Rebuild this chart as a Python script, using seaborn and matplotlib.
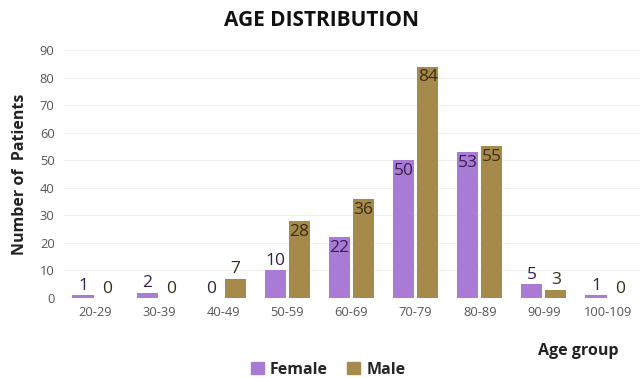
import pandas as pd
import matplotlib.pyplot as plt
import seaborn as sns

# Data
age_groups = ["20-29", "30-39", "40-49", "50-59", "60-69", "70-79", "80-89", "90-99", "100-109"]
female = [1, 2, 0, 10, 22, 50, 53, 5, 1]
male = [0, 0, 7, 28, 36, 84, 55, 3, 0]

df = pd.DataFrame({
    "Age group": age_groups * 2,
    "Count": female + male,
    "Sex": ["Female"] * len(age_groups) + ["Male"] * len(age_groups),
})

sns.set_style("white")
plt.rcParams["font.family"] = ["Open Sans", "DejaVu Sans"]

fig = plt.figure(figsize=(6.42, 3.78), dpi=100)
ax = fig.add_axes([0.098, 0.2116, 0.899, 0.656])

palette = {"Female": "#A97BD5", "Male": "#A68A4B"}
sns.barplot(data=df, x="Age group", y="Count", hue="Sex", order=age_groups,
            hue_order=["Female", "Male"], palette=palette, width=0.75, gap=0.12,
            saturation=1, linewidth=0, ax=ax, legend=True)

# value labels
text_colors = ["#35204f", "#3a2e12"]
for cont, tc in zip(ax.containers, text_colors):
    for bar in cont:
        v = bar.get_height()
        x = bar.get_x() + bar.get_width() / 2
        if v >= 20:
            ax.text(x, v - 1, f"{int(v)}", ha="center", va="top", fontsize=12.5, color=tc)
        else:
            ax.text(x, v + 0.5, f"{int(v)}", ha="center", va="bottom", fontsize=12.5, color=tc)

ax.set_ylim(0, 90)
ax.set_yticks(range(0, 91, 10))
ax.set_xlim(-0.5, len(age_groups) - 0.5)
ax.yaxis.grid(True, color="#f0f0f0", linewidth=0.8)
ax.set_axisbelow(True)
sns.despine(ax=ax, left=True, bottom=True)
ax.tick_params(axis="both", length=0, labelsize=9.3, colors="#555555", pad=6)

ax.set_ylabel("Number of  Patients", fontsize=11.5, fontweight="bold", color="#222222")
ax.yaxis.set_label_coords(-0.06, 0.5)
ax.set_xlabel("Age group", fontsize=11.5, fontweight="bold", color="#222222")
ax.xaxis.set_label_coords(0.893, -0.18)

fig.text(0.5, 0.945, "AGE DISTRIBUTION", ha="center", va="center",
         fontsize=15, fontweight="bold", color="#111111")

ax.get_legend().remove()
handles = [plt.Rectangle((0, 0), 1, 1, color=palette[k]) for k in ["Female", "Male"]]
fig.legend(handles, ["Female", "Male"], loc="center", bbox_to_anchor=(0.511, 0.022),
           ncol=2, frameon=False, handlelength=0.8, handleheight=0.8, handletextpad=0.4,
           columnspacing=1.2, prop={"weight": "bold", "size": 11.5})

plt.savefig("out.png", dpi=100)
